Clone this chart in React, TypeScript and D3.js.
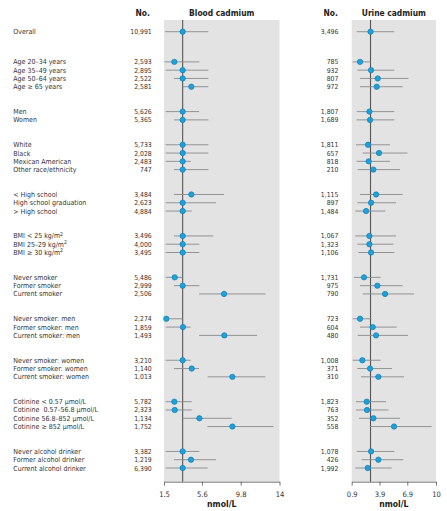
import React, { useEffect, useRef } from "react";
import * as d3 from "d3";

const categories = [
  "Overall",
  "Age 20–34 years", "Age 35–49 years", "Age 50–64 years", "Age ≥ 65 years",
  "Men", "Women",
  "White", "Black", "Mexican American", "Other race/ethnicity",
  "< High school", "High school graduation", "> High school",
  "BMI < 25 kg/m2", "BMI 25–29 kg/m2", "BMI ≥ 30 kg/m2",
  "Never smoker", "Former smoker", "Current smoker",
  "Never smoker: men", "Former smoker: men", "Current smoker: men",
  "Never smoker: women", "Former smoker: women", "Current smoker: women",
  "Cotinine < 0.57 μmol/L", "Cotinine  0.57–56.8 μmol/L", "Cotinine 56.8–852 μmol/L", "Cotinine ≥ 852 μmol/L",
  "Never alcohol drinker", "Former alcohol drinker", "Current alcohol drinker",
];
const groupSizes = [1, 4, 2, 4, 3, 3, 3, 3, 3, 4, 3];

const bloodN = ["10,991", "2,593", "2,895", "2,522", "2,581", "5,626", "5,365", "5,733", "2,028", "2,483", "747", "3,484", "2,623", "4,884", "3,496", "4,000", "3,495", "5,486", "2,999", "2,506", "2,274", "1,859", "1,493", "3,210", "1,140", "1,013", "5,782", "2,323", "1,134", "1,752", "3,382", "1,219", "6,390"];
const bloodMean = [3.52, 2.62, 3.52, 3.52, 4.46, 3.52, 3.52, 3.52, 3.52, 3.52, 3.52, 4.46, 3.52, 3.52, 3.52, 3.52, 3.52, 2.66, 3.52, 8.0, 1.75, 3.55, 8.03, 3.52, 4.5, 8.9, 2.62, 2.66, 5.33, 8.9, 3.52, 4.42, 3.52];
const bloodLow = [1.61, 1.54, 1.68, 2.58, 3.52, 1.68, 2.58, 1.68, 1.68, 1.68, 2.58, 2.58, 1.68, 1.68, 2.58, 1.68, 1.68, 1.68, 2.58, 5.29, 1.5, 1.68, 5.29, 1.68, 2.58, 6.23, 1.68, 1.68, 3.52, 6.19, 1.68, 2.58, 1.68];
const bloodHigh = [6.3, 5.33, 6.3, 6.3, 6.3, 5.29, 6.3, 6.3, 6.3, 4.42, 6.3, 8.0, 7.13, 4.5, 6.84, 5.33, 5.33, 3.52, 5.33, 12.47, 3.52, 4.39, 11.57, 4.39, 5.29, 12.47, 4.5, 4.5, 8.83, 13.34, 5.33, 7.13, 6.23];

const urineN = ["3,496", "785", "932", "807", "972", "1,807", "1,689", "1,811", "657", "818", "210", "1,115", "897", "1,484", "1,067", "1,323", "1,106", "1,731", "975", "790", "723", "604", "480", "1,008", "371", "310", "1,823", "763", "352", "558", "1,078", "426", "1,992"];
const urineMean = [2.93, 1.8, 2.99, 3.71, 3.6, 2.81, 2.88, 2.66, 3.85, 2.73, 3.24, 3.53, 2.99, 2.45, 2.81, 2.81, 2.99, 2.23, 3.67, 4.5, 1.8, 3.17, 3.53, 2.05, 2.88, 3.78, 2.52, 2.55, 3.24, 5.47, 2.99, 3.78, 2.63];
const urineLow = [1.44, 1.01, 1.51, 1.8, 1.8, 1.44, 1.44, 1.37, 2.09, 1.44, 1.55, 1.8, 1.51, 1.3, 1.3, 1.51, 1.62, 1.15, 1.8, 2.09, 1.01, 1.8, 1.55, 1.01, 1.51, 1.91, 1.37, 1.37, 1.69, 2.88, 1.44, 1.98, 1.3];
const urineHigh = [5.5, 2.95, 5.5, 7.02, 6.4, 5.5, 5.5, 5.04, 6.91, 5.04, 6.12, 6.4, 5.68, 4.53, 5.68, 5.4, 5.5, 4.03, 6.4, 7.63, 3.06, 5.76, 6.98, 4.03, 5.25, 6.55, 4.6, 4.86, 6.12, 9.53, 5.5, 6.48, 5.22];

const bloodTicks = [1.5, 5.6, 9.8, 14];
const urineTicks = [0.9, 3.9, 6.9, 10];

const FONT = "'DejaVu Sans Condensed', 'Liberation Sans', sans-serif";
const TEXT = "#333";
const LABEL_SIZE = 7;

// slot positions: rows within a group 1 apart, groups separated by a gap
function computeSlots() {
  const slots: number[] = [];
  let s = 0;
  groupSizes.forEach((n, gi) => {
    if (gi > 0) s += gi === 1 ? 3.64 : 3;
    for (let i = 0; i < n; i++) {
      slots.push(s);
      if (i < n - 1) s += 1;
    }
  });
  return slots;
}

function Label({ text, x, y }: { text: string; x: number; y: number }) {
  const m = text.match(/^(.*kg\/m)2$/);
  if (m) {
    return (
      <text x={x} y={y}>
        {m[1]}
        <tspan dy={-2.6} fontSize={5}>2</tspan>
      </text>
    );
  }
  return (
    <text x={x} y={y} style={{ whiteSpace: "pre" }}>
      {text}
    </text>
  );
}

function Panel({ x, y, mean, low, high, ticks, title, counts, countX, noX }: any) {
  const axisRef = useRef<SVGGElement>(null);
  const top = 20;
  const bottom = 481.7;
  useEffect(() => {
    if (!axisRef.current) return;
    const g = d3.select(axisRef.current);
    g.selectAll("*").remove();
    g.call(d3.axisBottom(x).tickValues(ticks).tickFormat((d: any) => String(d)).tickSize(4).tickSizeOuter(0).tickPadding(6));
    g.select(".domain").attr("stroke", "#555").attr("stroke-width", 0.8);
    g.selectAll(".tick line").attr("stroke", "#555").attr("stroke-width", 0.8);
    g.selectAll(".tick text").attr("fill", TEXT).attr("font-family", FONT).attr("font-size", 7.5);
  }, []);
  const [xr0, xr1] = x.range();
  const ref = x(mean[0]);
  return (
    <g>
      <rect x={xr0} y={top} width={xr1 - xr0} height={bottom - top} fill="#e3e3e4" />
      <line x1={ref} x2={ref} y1={top} y2={bottom} stroke="#555" strokeWidth={1.1} />
      {mean.map((m: number, i: number) => (
        <line key={"l" + i} x1={x(low[i])} x2={x(high[i])} y1={y(i)} y2={y(i)} stroke="#8a8a8a" strokeWidth={0.9} />
      ))}
      {mean.map((m: number, i: number) => (
        <circle key={"c" + i} cx={x(m)} cy={y(i)} r={2.7} fill="#1ba1dc" stroke="#0d77ad" strokeWidth={0.6} />
      ))}
      <g ref={axisRef} transform={`translate(0,${bottom})`} />
      <text x={(xr0 + xr1) / 2} y={16} textAnchor="middle" fontWeight="bold" fontSize={8.4} fill="#222">
        {title}
      </text>
      <text x={(xr0 + xr1) / 2} y={507} textAnchor="middle" fontWeight="bold" fontSize={8.6} fill="#222">
        nmol/L
      </text>
      <text x={noX} y={16} textAnchor="middle" fontWeight="bold" fontSize={8.4} fill="#222">
        No.
      </text>
      {counts.map((c: string, i: number) => (
        <text key={"n" + i} x={countX} y={y(i) + 2.5} textAnchor="end" fontSize={6.8} fill={TEXT}>
          {c}
        </text>
      ))}
    </g>
  );
}

export default function App() {
  const slots = computeSlots();
  const slotY = d3.scaleLinear().domain([0, slots[slots.length - 1]]).range([31.7, 468]);
  const y: any = (i: number) => slotY(slots[i]);
  const xBlood = d3.scaleLinear().domain([1.5, 14]).range([164, 279.5]);
  const xUrine = d3.scaleLinear().domain([0.9, 10]).range([351.7, 436]);
  return (
    <svg
      width={447}
      height={511}
      style={{ position: "absolute", left: 0, top: 0, background: "#fff" }}
      fontFamily={FONT}
    >
      <g fill={TEXT} fontSize={LABEL_SIZE}>
        {categories.map((c, i) => (
          <Label key={i} text={c} x={13.3} y={y(i) + 2.5} />
        ))}
      </g>
      <Panel x={xBlood} y={y} mean={bloodMean} low={bloodLow} high={bloodHigh} ticks={bloodTicks} title="Blood cadmium" counts={bloodN} countX={151.7} noX={142.7} />
      <Panel x={xUrine} y={y} mean={urineMean} low={urineLow} high={urineHigh} ticks={urineTicks} title="Urine cadmium" counts={urineN} countX={338.3} noX={330.7} />
    </svg>
  );
}
